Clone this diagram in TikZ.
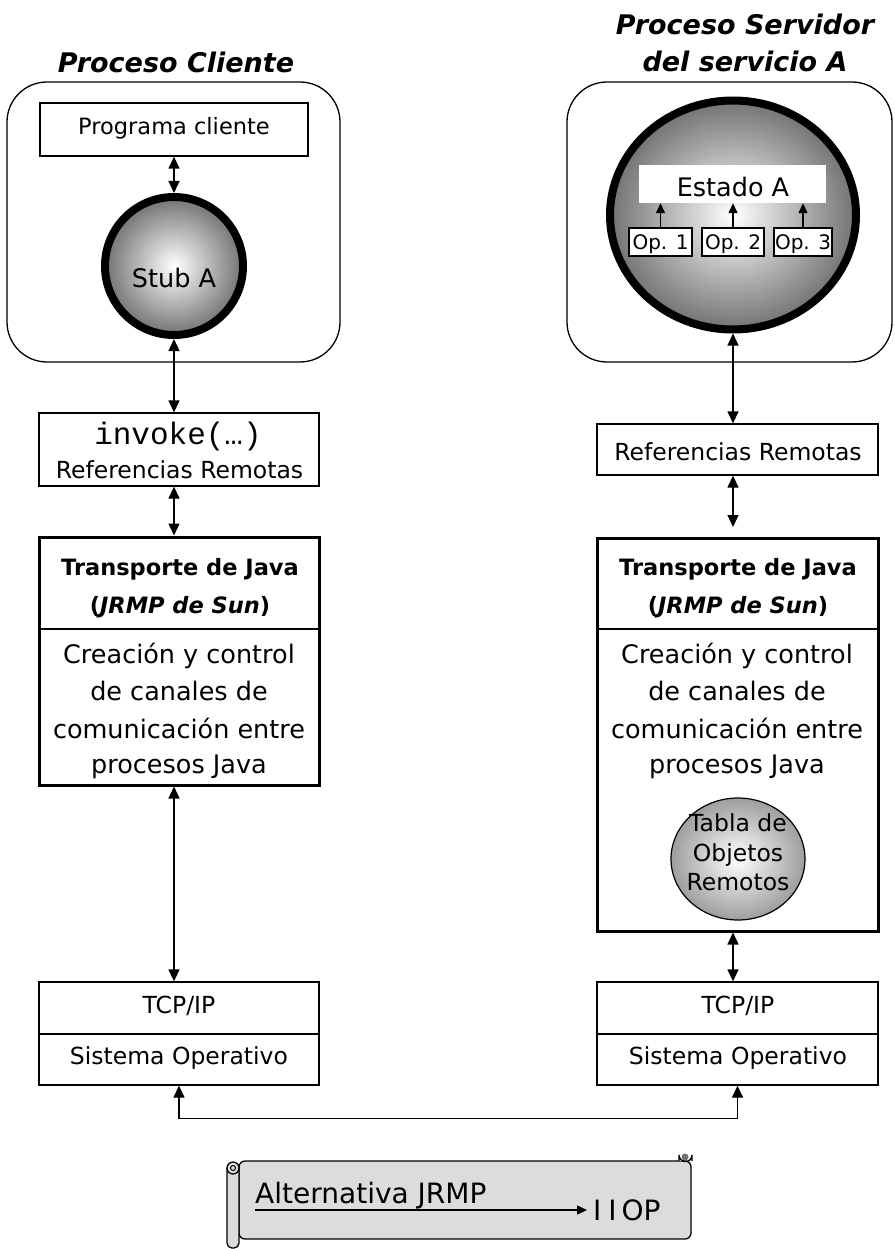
\documentclass[tikz,border=0pt]{standalone}
\usepackage{fontspec}
\setmainfont{DejaVu Sans}
\setmonofont{Liberation Mono}
\usetikzlibrary{arrows.meta,shapes.geometric}
\definecolor{scrollgray}{RGB}{220,220,220}
\newcommand\fszTitle{\fontsize{27}{32}\selectfont}
\newcommand\fszBody{\fontsize{22.5}{27}\selectfont}
\newcommand\fszRef{\fontsize{23.5}{28}\selectfont}
\newcommand\fszBig{\fontsize{25.5}{30}\selectfont}
\newcommand\fszMono{\fontsize{31}{36}\selectfont}
\newcommand\fszScroll{\fontsize{28}{33}\selectfont}
\newcommand\fszOp{\fontsize{20}{24}\selectfont}
\begin{document}
\begin{tikzpicture}[x=1pt,y=-1pt,
  procbox/.style={draw, rounded corners=40pt, line width=1.3pt, inner sep=0},
  box/.style={draw, line width=1.3pt, inner sep=0, fill=white},
  thickbox/.style={draw, line width=3pt, inner sep=0, fill=white},
  sphere/.style={circle, draw, line width=8pt, inner sep=0, shade, shading=radial, inner color=white, outer color=black!55},
  lbl/.style={inner sep=0, anchor=base, font=\fszBody},
  titlelbl/.style={inner sep=0, anchor=base, font=\fszTitle\bfseries\itshape},
  tip/.tip={Triangle[length=12pt,width=11pt]},
  smalltip/.tip={Triangle[length=10pt,width=9pt]},
  dbl/.style={line width=1.3pt, tip-tip},
  one/.style={line width=1.3pt, -smalltip}
]
\useasboundingbox (0,0) rectangle (894,1249);

% titles
\node[titlelbl] (tL) at (176,73) {Proceso Cliente};
\node[titlelbl] (tR1) at (745,35) {Proceso Servidor};
\node[titlelbl] (tR2) at (745,72) {del servicio A};

% process boxes
\node[procbox, minimum width=333pt, minimum height=280pt] (procL) at (173.5,222) {};
\node[procbox, minimum width=325pt, minimum height=280pt] (procR) at (729.5,222) {};

% client side
\node[box, minimum width=268pt, minimum height=53pt] (prog) at (174,129.5) {};
\node[lbl] (progT) at (174,135) {Programa cliente};
\node[sphere, minimum size=138pt] (stub) at (174,266) {};
\node[lbl, font=\fszBig] (stubT) at (174,287) {Stub A};

\node[box, minimum width=280pt, minimum height=73pt] (inv) at (179,449.5) {};
\node[lbl, font=\fszMono\ttfamily] (invT) at (178,444) {invoke(…)};
\node[lbl, font=\fszRef] (refLT) at (179.5,478) {Referencias Remotas};

\node[thickbox, minimum width=280pt, minimum height=248pt] (trL) at (179,661) {};
\draw[line width=1.3pt] (trL.west |- 0,629) -- (trL.east |- 0,629);
\node[lbl, font=\fszBody\bfseries] (trLa) at (180,575) {Transporte de Java};
\node[lbl, font=\fszBody\bfseries] (trLb) at (180,613) {(\textit{JRMP de Sun})};
\node[lbl, font=\fszBig] (trLc) at (179,663) {Creación y control};
\node[lbl, font=\fszBig] (trLd) at (179,700.5) {de canales de};
\node[lbl, font=\fszBig] (trLe) at (179,738) {comunicación entre};
\node[lbl, font=\fszBig] (trLf) at (179,773) {procesos Java};

\node[box, minimum width=280pt, minimum height=103pt] (tcpL) at (179,1033.5) {};
\draw[line width=1.3pt] (tcpL.west |- 0,1034) -- (tcpL.east |- 0,1034);
\node[lbl, font=\fszRef] (tcpLT) at (179,1013) {TCP/IP};
\node[lbl, font=\fszRef] (osLT) at (179,1064) {Sistema Operativo};

% server side
\node[sphere, ellipse, minimum width=246pt, minimum height=229pt] (srv) at (733,215) {};
\node[fill=white, inner sep=0, minimum width=187pt, minimum height=38pt] (est) at (732.5,184) {};
\node[lbl, font=\fszBig] (estT) at (733,197) {Estado A};
\node[box, line width=1.2pt, minimum width=63pt, minimum height=28pt] (op1) at (660.5,242) {};
\node[box, line width=1.2pt, minimum width=62pt, minimum height=28pt] (op2) at (733,242) {};
\node[box, line width=1.2pt, minimum width=58pt, minimum height=28pt] (op3) at (803,242) {};
\node[lbl, font=\fszOp] (op1T) at (660.5,249) {Op. 1};
\node[lbl, font=\fszOp] (op2T) at (733,249) {Op. 2};
\node[lbl, font=\fszOp] (op3T) at (803,249) {Op. 3};
\draw[one] (op1.north) -- (op1.north |- est.south);
\draw[one] (op2.north) -- (op2.north |- est.south);
\draw[one] (op3.north) -- (op3.north |- est.south);

\node[box, minimum width=281pt, minimum height=51pt] (refR) at (737.5,449.5) {};
\node[lbl, font=\fszRef] (refRT) at (738,460) {Referencias Remotas};

\node[thickbox, minimum width=281pt, minimum height=393pt] (trR) at (737.5,734.5) {};
\draw[line width=1.3pt] (trR.west |- 0,629) -- (trR.east |- 0,629);
\node[lbl, font=\fszBody\bfseries] (trRa) at (738,575) {Transporte de Java};
\node[lbl, font=\fszBody\bfseries] (trRb) at (738,613) {(\textit{JRMP de Sun})};
\node[lbl, font=\fszBig] (trRc) at (737,663) {Creación y control};
\node[lbl, font=\fszBig] (trRd) at (737,700.5) {de canales de};
\node[lbl, font=\fszBig] (trRe) at (737,738) {comunicación entre};
\node[lbl, font=\fszBig] (trRf) at (737,773) {procesos Java};
\node[ellipse, draw, line width=1.2pt, inner sep=0, minimum width=134pt, minimum height=122pt,
      shade, shading=radial, inner color=white, outer color=black!38] (tab) at (738,859) {};
\node[lbl, font=\fszRef] (tabA) at (738,831) {Tabla de};
\node[lbl, font=\fszRef] (tabB) at (738,861) {Objetos};
\node[lbl, font=\fszRef] (tabC) at (738,890) {Remotos};

\node[box, minimum width=281pt, minimum height=103pt] (tcpR) at (737.5,1033.5) {};
\draw[line width=1.3pt] (tcpR.west |- 0,1034) -- (tcpR.east |- 0,1034);
\node[lbl, font=\fszRef] (tcpRT) at (738,1013) {TCP/IP};
\node[lbl, font=\fszRef] (osRT) at (738,1064) {Sistema Operativo};

% connectors
\draw[dbl] (prog.south) -- (stub.north);
\draw[dbl] (stub.south) -- (stub.south |- inv.north);
\draw[dbl] (stub.south |- inv.south) -- (stub.south |- trL.north);
\draw[dbl] (stub.south |- trL.south) -- (stub.south |- tcpL.north);

\coordinate (gapR) at (733,527);
\draw[dbl] (srv.south) -- (srv.south |- refR.north);
\draw[dbl] (srv.south |- refR.south) -- (gapR);
\draw[dbl] (srv.south |- trR.south) -- (srv.south |- tcpR.north);

\draw[dbl] (tcpL.south) -- ++(0,33) -| (tcpR.south);

% scroll
\draw[line width=1.3pt, fill=scrollgray, rounded corners=6pt]
  (239,1161) -- (691,1161) -- (691,1239) -- (239,1239) -- cycle;
\draw[line width=1.3pt, fill=scrollgray] (679,1161) -- (679,1155) arc[start angle=180, end angle=360, radius=6.5pt] -- (692,1161);
\fill[black!55] (685,1157) circle[radius=3.5pt];
\draw[line width=1.3pt, fill=scrollgray, rounded corners=5pt]
  (239,1168) -- (239,1248) -- (227,1248) -- (227,1168);
\draw[line width=1.3pt, fill=scrollgray] (233,1168) circle[radius=6pt];
\draw[line width=1pt] (233,1168) circle[radius=2.5pt];

\node[lbl, anchor=base west, font=\fszScroll] (alt) at (255,1203) {Alternativa JRMP};
\node[lbl, anchor=base west, font=\fszScroll] (iiop) at (593,1220) {I\kern7pt I\kern5pt OP};
\coordinate (arrS) at (255,1210);
\coordinate (arrE) at (587,1210);
\draw[line width=1.3pt, -smalltip] (arrS) -- (arrE);
\end{tikzpicture}
\end{document}
